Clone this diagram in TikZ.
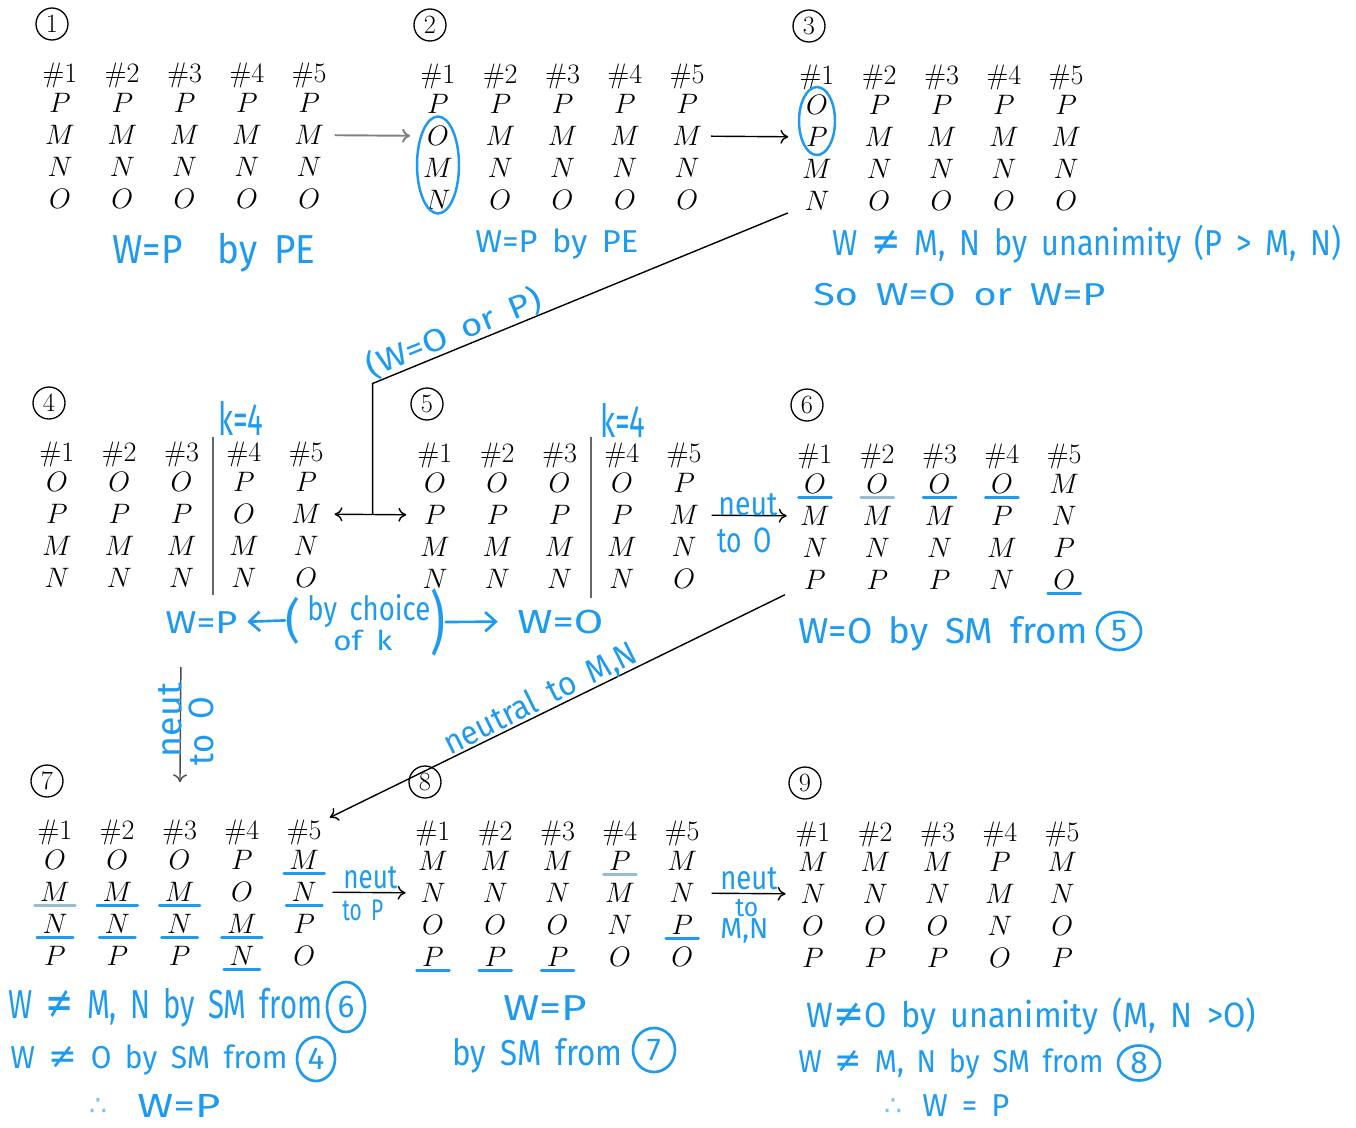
\RequirePackage{fix-cm}
\documentclass[tikz,border=0pt]{standalone}
\usepackage{fontspec}
\usepackage{graphicx}
\newfontfamily\hand{Fira Sans}
\newfontfamily\symf{DejaVu Sans}
\usetikzlibrary{arrows.meta,calc,shapes.geometric}
\definecolor{penblue}{RGB}{30,155,240}
\definecolor{penfaint}{RGB}{150,190,210}
\newdimen\pxu \pxu=0.02cm
\newdimen\hwtarget
\newcommand\hw[2]{\hwtarget=#1\pxu\resizebox{\hwtarget}{\height}{\spaceskip=0.45em\relax #2}}
\newcommand\nq{{\symf\scalebox{1.15}{≠}}}
\newcommand\prefpanel[9]{%
  \node[cnum] (#1c) at (#2-8,#3-49) {#4};
  \foreach \col [count=\i] in {{#5},{#6},{#7},{#8},{#9}} {
    \node[ent] (#1h\i) at ({#2+(\i-1)*62.3},#3) {\#\i};
    \foreach \l [count=\j] in \col {
      \node[ent] (#1-\i-\j) at ({#2+(\i-1)*62.3},{#3+30+(\j-1)*32}) {$\l$};
    }
  }
}
\newcommand\uln[2][ink]{\draw[#1] ([shift={(-3pt,-1.8pt)}]#2.south west) -- ([shift={(3pt,-1.8pt)}]#2.south east);}
\begin{document}
\begin{tikzpicture}[x=0.02cm,y=-0.02cm,
  ent/.style={inner sep=0pt, text height=11pt, text depth=0pt, font=\fontsize{16}{19}\selectfont},
  cnum/.style={circle, draw, line width=0.75pt, inner sep=0pt, minimum size=0.64cm, font=\fontsize{15}{15}\selectfont},
  hand/.style={text=penblue, inner sep=0pt, anchor=base west, font=\hand\fontsize{#1}{#1}\selectfont},
  ink/.style={draw=penblue, line width=1.5pt, line cap=round},
  faint/.style={draw=penfaint, line width=1.5pt, line cap=round},
  conn/.style={draw=black, line width=0.8pt},
  tipb/.style={-{To[length=4.5pt,width=8pt]}},
  btip/.style={-{Straight Barb[length=6pt,width=11pt]}},
  hcirc/.style={ellipse, draw=penblue, line width=1.5pt, text=penblue, inner sep=0pt, font=\hand\fontsize{18}{18}\selectfont},
  thf/.style={text=penblue!60, inner sep=0pt, font=\symf\fontsize{16}{16}\selectfont},
]
\fill[white] (0,0) rectangle (1356,1127);
\useasboundingbox (0,0) rectangle (1356,1127);

% ---------- panels ----------
\prefpanel{p1}{60}{73}{1}{P,M,N,O}{P,M,N,O}{P,M,N,O}{P,M,N,O}{P,M,N,O}
\prefpanel{p2}{438}{74}{2}{P,O,M,N}{P,M,N,O}{P,M,N,O}{P,M,N,O}{P,M,N,O}
\prefpanel{p3}{817}{75}{3}{O,P,M,N}{P,M,N,O}{P,M,N,O}{P,M,N,O}{P,M,N,O}
\prefpanel{p4}{57}{452}{4}{O,P,M,N}{O,P,M,N}{O,P,M,N}{P,O,M,N}{P,M,N,O}
\prefpanel{p5}{435}{453}{5}{O,P,M,N}{O,P,M,N}{O,P,M,N}{O,P,M,N}{P,M,N,O}
\prefpanel{p6}{815}{454}{6}{O,M,N,P}{O,M,N,P}{O,M,N,P}{O,P,M,N}{M,N,P,O}
\prefpanel{p7}{55}{830}{7}{O,M,N,P}{O,M,N,P}{O,M,N,P}{P,O,M,N}{M,N,P,O}
\prefpanel{p8}{433}{831}{8}{M,N,O,P}{M,N,O,P}{M,N,O,P}{P,M,N,O}{M,N,P,O}
\prefpanel{p9}{813}{832}{9}{M,N,O,P}{M,N,O,P}{M,N,O,P}{P,M,N,O}{M,N,O,P}

% ---------- dividers ----------
\draw[conn, draw=black!60, line width=1pt] ($(p4h3)!0.5!(p4h4)+(0,-15)$) -- ($(p4-3-4)!0.5!(p4-4-4)+(0,17)$);
\draw[conn, draw=black!60, line width=1pt] ($(p5h3)!0.5!(p5h4)+(0,-16)$) -- ($(p5-3-4)!0.5!(p5-4-4)+(0,19)$);

% ---------- connectors ----------
\draw[conn, draw=black!50, line width=1.1pt, tipb, shorten <=6pt, shorten >=9.5pt] (p1-5-2) -- (p2-1-2);
\draw[conn, tipb, shorten <=5pt, shorten >=10pt] (p2-5-2) -- (p3-1-2);
\coordinate (mid) at ($(p4-5-2.east)!0.5!(p5-1-2.west)$);
\coordinate (bend) at ($(mid)+(0,-131)$);
\draw[conn, shorten <=10pt] (p3-1-4) -- (bend) -- (mid);
\draw[conn, {To[length=4.5pt,width=8pt]}-{To[length=4.5pt,width=8pt]}, shorten <=7.5pt, shorten >=10pt] (p4-5-2) -- (p5-1-2);
\draw[conn, tipb, shorten <=7pt, shorten >=7.5pt] (p5-5-2) -- (p6-1-2);
\draw[conn, tipb, shorten <=12pt, shorten >=5pt] (p6-1-4) -- (p7h5);
\draw[conn, draw=black!70, tipb, shorten <=45pt, shorten >=21.5pt] (p4-3-4) -- (p7h3);
\draw[conn, tipb, shorten <=8.8pt, shorten >=8.3pt] (p7-5-2) -- (p8-1-2);
\draw[conn, tipb, shorten <=9.4pt, shorten >=8.3pt] (p8-5-2) -- (p9-1-2);

% ---------- blue marks ----------
\draw[ink, line width=1.4pt] ($(p2-1-3)+(0,-3)$) ellipse [x radius=0.42cm, y radius=0.97cm];
\draw[ink, line width=1.4pt] ($(p3-1-1)!0.5!(p3-1-2)$) ellipse [x radius=0.36cm, y radius=0.68cm];
\uln{p6-1-1} \uln[faint]{p6-2-1} \uln{p6-3-1} \uln{p6-4-1} \uln{p6-5-4}
\uln[faint]{p7-1-2} \uln{p7-1-3} \uln{p7-2-2} \uln{p7-2-3} \uln{p7-3-2} \uln{p7-3-3}
\uln{p7-4-3} \uln{p7-4-4} \uln{p7-5-1} \uln{p7-5-2}
\uln{p8-1-4} \uln{p8-2-4} \uln{p8-3-4} \uln[faint]{p8-4-1} \uln{p8-5-3}

% ---------- handwritten notes ----------
\node[hand=23] (a1) at (112,263) {\hw{203}{W=P\hspace{0.5em} by PE}};
\node[hand=18] (a2) at (475,252) {\hw{163}{W=P by PE}};
\node[hand=20.5] (a3) at (832,255) {\hw{509}{W \nq\ M, N by unanimity (P > M, N)}};
\node[hand=18] (a4) at (813,305) {\hw{292}{So W=O or W=P}};
\node[hand=18, anchor=base, rotate=22.2] (a5) at (458,343) {\hw{187}{(W=O or P)}};
\node[hand=26] (k4) at (218,435) {\hw{45}{k=4}};
\node[hand=26] (k5) at (600,437) {\hw{45}{k=4}};

\node[hand=18] (wp) at (165,633) {\hw{72}{W=P}};
\node[hand=27] (lp) at (285,637) {\hw{15}{(}};
\node[hand=19] (bc) at (307,620) {\hw{123}{by choice}};
\node[hand=15.5] (ok) at (333,650) {\hw{59}{of k}};
\node[hand=39] (rp) at (430,646) {\hw{15}{)}};
\node[hand=19] (wo) at (517,633) {\hw{86}{W=O}};
\draw[ink, btip, shorten >=5.5pt] (lp.west) -- (wp.east);
\draw[ink, btip, shorten >=11pt] (rp.east) -- (wo.west);

\node[hand=19] (n56a) at (718,515) {\hw{59}{neut}};
\node[hand=20] (n56b) at (717,552) {\hw{55}{to O}};
\node[hand=20.5] (w6) at (798,643) {\hw{290}{W=O by SM from}};
\node[hcirc, minimum width=0.88cm, minimum height=0.76cm] (c5) at (1119,631) {5};

\node[hand=19, anchor=base, rotate=26.4] (ntr) at (545,708) {\hw{212}{neutral to M,N}};
\node[hand=20, anchor=base, rotate=90] (v1) at (181,720) {\hw{74}{neut}};
\node[hand=20, anchor=base, rotate=90] (v2) at (213,731) {\hw{68}{to O}};

\node[hand=19] (n78a) at (343,888) {\hw{54}{neut}};
\node[hand=17] (n78b) at (342,920) {\hw{41}{to P}};
\node[hand=19] (n89a) at (720,889) {\hw{57}{neut}};
\node[hand=15] (n89b) at (735,916) {\hw{23}{to}};
\node[hand=16.5] (n89c) at (720,938) {\hw{48}{M,N}};

\node[hand=23] (b1) at (8,1018) {\hw{314}{W \nq\ M, N by SM from}};
\node[hcirc, minimum width=0.76cm, minimum height=1.0cm] (c6) at (346,1007) {6};
\node[hand=18] (b2) at (10,1068) {\hw{277}{W \nq\ O by SM from}};
\node[hcirc, minimum width=0.76cm, minimum height=0.88cm] (c4) at (316,1059) {4};
\node[thf] (t1) at (98,1107) {∴};
\node[hand=19] (b3) at (137,1117) {\hw{83}{W=P}};

\node[hand=20.5] (b4) at (503,1020) {\hw{84}{W=P}};
\node[hand=20.5] (b5) at (452,1065) {\hw{170}{by SM from}};
\node[hcirc, minimum width=0.84cm, minimum height=0.88cm] (c7) at (654,1050) {7};

\node[hand=20] (b6) at (806,1027) {\hw{450}{W\nq O by unanimity (M, N >O)}};
\node[hand=18] (b7) at (798,1072) {\hw{305}{W \nq\ M, N by SM from}};
\node[hcirc, minimum width=0.84cm, minimum height=0.7cm] (c8) at (1139,1063) {8};
\node[thf] (t2) at (893,1107) {∴};
\node[hand=18] (b8) at (922,1116) {\hw{87}{W = P}};
\end{tikzpicture}
\end{document}
